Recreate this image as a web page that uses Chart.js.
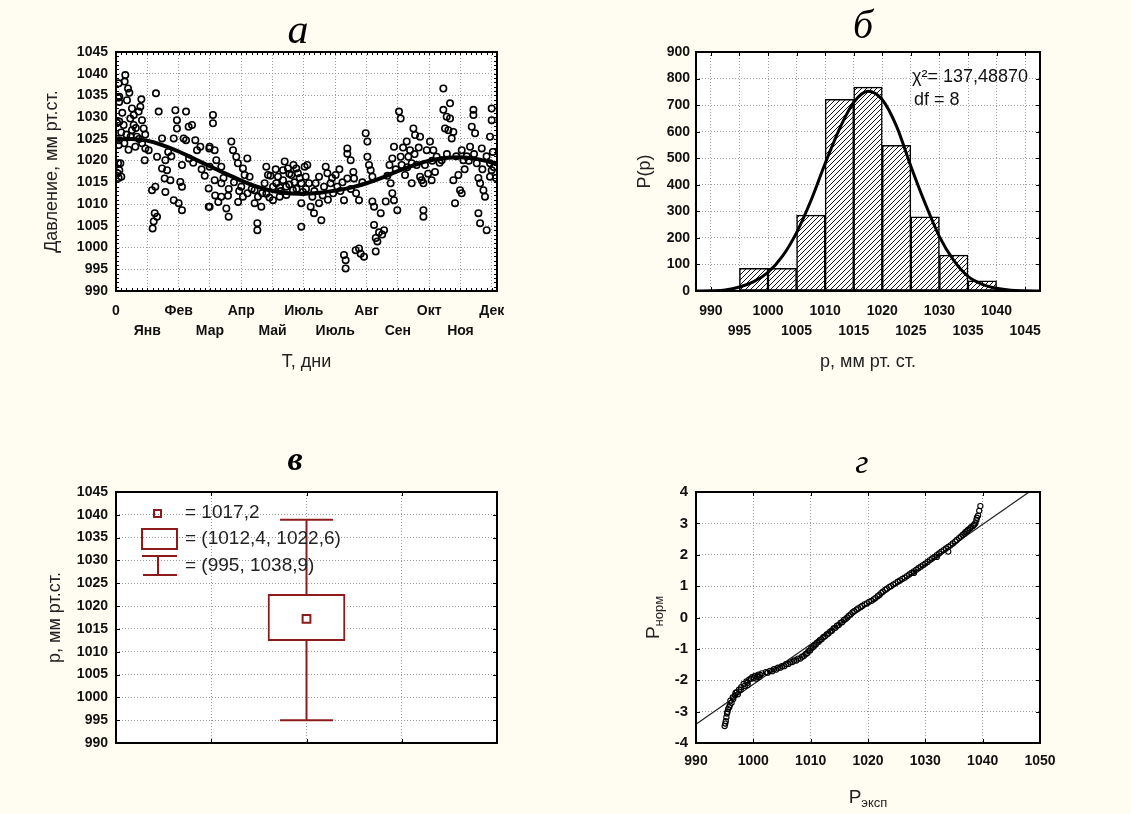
<!DOCTYPE html>
<html lang="ru">
<head>
<meta charset="utf-8">
<title>Атмосферное давление</title>
<script src="https://cdn.jsdelivr.net/npm/chart.js@4.4.1/dist/chart.umd.min.js"></script>
<style>
  html, body { margin:0; padding:0; background:#fffdf1; }
  body { width:1131px; height:814px; position:relative; overflow:hidden; }
  .pane { position:absolute; }
  .letter { position:absolute; font-family:'Liberation Serif','DejaVu Serif',serif; font-style:italic; color:#000; transform:translateX(-50%); white-space:nowrap; }
</style>
</head>
<body>
<div class="pane" style="left:0;top:0;width:560px;height:400px"><canvas id="cA"></canvas></div>
<div class="pane" style="left:560px;top:0;width:571px;height:400px"><canvas id="cB"></canvas></div>
<div class="pane" style="left:0;top:400px;width:560px;height:414px"><canvas id="cC"></canvas></div>
<div class="pane" style="left:560px;top:400px;width:571px;height:414px"><canvas id="cD"></canvas></div>
<div class="letter" style="left:298px;top:8px;font-size:42px;line-height:42px">а</div>
<div class="letter" style="left:863px;top:5px;font-size:40px;line-height:40px">б</div>
<div class="letter" style="left:295px;top:442px;font-size:34px;line-height:34px;font-weight:bold">в</div>
<div class="letter" style="left:862px;top:445px;font-size:34px;line-height:34px">г</div>
<script>
// ---------- Panel а: daily pressure over the year ----------
const aDays = [1,2,1.5,2.5,2,3,
 8.9,8.3,11.5,12.8,2.6,3.2,10.5,24.3,23.3,15.3,21.7,13.7,3.2,7.3,16.9,24.9,26.5,15.3,18.5,28.1,31.3,27.5,2.6,2.6,4.2,3.2,5.1,
 38.3,40.9,56.9,58.4,67.1,58.4,72.8,69.6,44.1,55.3,64.8,67.1,76.0,80.8,77.6,89.4,39.3,47.3,44.1,48.9,46.6,52.1,63.2,37.7,34.5,47.3,61.6,63.2,55.3,60.0,63.2,88.8,88.8,37.1,39.3,36.1,35.1,
 20,10,6,17,
 92.9,92.9,89.7,94.5,96.1,89.7,100.9,94.5,100.9,110.5,112.1,115.2,116.8,125.8,121.6,123.2,128.0,120.0,121.6,100.9,107.3,105.7,107.9,89.7,132.8,136.0,132.8,139.2,135.4,135.4,144.0,145.6,142.4,150.4,155.2,153.6,161.6,160.0,164.7,168.0,172.7,174.3,177.5,180.7,156.8,150.4,163.2,177.5,177.5,169.5,144.0,
 130,140,147,158,166,171,182,118,126,
 183.3,181.7,184.9,186.5,188.1,189.7,194.5,196.7,191.3,194.5,200.9,202.5,199.3,205.6,210.4,212.0,218.4,221.6,221.6,224.8,227.4,221.6,228.0,232.8,239.2,240.8,240.8,242.4,244.0,245.6,245.6,247.2,253.6,258.4,256.8,247.2,248.8,250.4,248.8,263.1,264.7,266.3,269.5,266.3,264.7,272.7,271.1,272.7,218.4,220.0,220.0,229.6,232.8,234.4,237.6,
 208,215,198,252,255,260,268,
 284.9,286.5,291.3,278.5,281.7,280.1,273.7,276.9,283.3,300.8,297.7,304.0,307.2,312.0,313.6,320.0,313.6,316.8,320.0,315.2,318.4,323.2,321.6,283.3,291.3,294.5,292.9,302.4,305.6,294.5,294.5,323.2,328.0,331.2,329.6,324.8,331.2,332.8,339.2,342.4,342.4,340.8,344.0,350.4,345.6,347.2,348.8,352.0,353.5,347.2,348.8,355.1,359.9,359.9,358.3,358.3,359.9,358.3,
 336,362,364,310,288,
 160,163,166,170,173,176,179,157,153,148,
 5,8,12,14,19,22,25,28,
 50,53,70,74,82,85,
 95,98,103,108,113,117,
 190,203,207,214,217,225,230,236,
 262,275,279,286,290,296,299,303,
 317,326,334,338,343,351,355,361];
const aPressure = [1028.7,1019.4,1017.1,1016,1034.5,1033.5,
 1039.7,1038.2,1036.6,1035.6,1037.8,1034.7,1033.9,1034.1,1032.4,1032.0,1031.3,1029.7,1029,1028.2,1028.2,1029.3,1027.4,1027.0,1023.2,1022.8,1022.4,1020.1,1024.7,1023.6,1019.4,1017.8,1016.3,
 1035.5,1031.3,1031.6,1029.3,1031.3,1027.4,1028.2,1027.8,1025.1,1025.1,1025.1,1024.7,1024.7,1023.2,1022.4,1022.8,1020.9,1020.1,1018.2,1017.8,1015.9,1015.5,1019.0,1014.0,1013.2,1012.8,1015.1,1014.0,1010.9,1010.2,1008.6,1013.6,1009.4,1007.9,1007.1,1006.0,1004.4,
 1025.5,1026,1031,1030.5,
 1030.5,1028.6,1023.2,1022.4,1020.1,1018.6,1018.6,1015.5,1014.8,1024.4,1022.4,1020.9,1019.4,1020.5,1018.2,1016.7,1016.3,1014.0,1011.7,1011.7,1011.9,1009.0,1007.1,1009.4,1013.2,1011.7,1010.2,1009.4,1005.6,1004.0,1018.6,1016.7,1014.8,1014.0,1016.3,1014.8,1019.8,1017.8,1018.2,1016.7,1018.2,1017.1,1014.8,1018.6,1011.7,1010.9,1012.1,1010.2,1004.8,1013.2,1012.4,
 1013.5,1012.5,1011.5,1013,1014.5,1015,1013.5,1013,1012.5,
 1019.0,1016.3,1014.8,1009.4,1011.7,1007.9,1010.2,1006.3,1014.8,1016.3,1018.6,1017.1,1014.0,1014.8,1016.7,1014.0,1010.9,1022.8,1021.6,1020.1,1017.4,1015.9,1015.9,1010.9,1026.3,1024.4,1020.9,1019.0,1017.8,1016.3,1010.6,1009.4,1007.9,1010.6,1004.0,1005.2,1002.2,1001.4,999.1,1014.8,1012.5,1010.9,1008.6,1023.2,1020.5,1020.9,1031.3,1029.7,998.3,997.1,995.2,999.4,999.8,998.6,997.9,
 1012.5,1013,1012,1003.5,1003,1016.5,1018,
 1027.4,1025.9,1025.5,1024.4,1022.4,1020.9,1019.0,1016.7,1019.4,1024.4,1022.4,1022.4,1020.9,1020.1,1036.6,1033.2,1031.7,1030.1,1029.7,1027.4,1027.0,1026.6,1025.1,1014.8,1016.3,1014.8,1015.5,1015.5,1017.4,1008.6,1007.1,1015.5,1016.7,1012.5,1013.2,1010.2,1022.4,1020.1,1023.2,1031.7,1030.5,1027.8,1026.3,1022.8,1019.4,1016.0,1014.8,1013.2,1011.7,1007.9,1005.6,1004.0,1032.0,1029.3,1019.4,1016.3,1017.8,1025.5,
 1021,1018.5,1016,1019.5,1019,
 1015.5,1014,1017,1019,1013.5,1016,1012.8,1013.8,1018,1016.5,
 1026.5,1024,1022.5,1025.5,1027.5,1025,1024,1026,
 1022,1021,1020.5,1019.5,1018,1016.5,
 1012,1010.5,1016,1013.5,1015,1010.5,
 1013,1011,1016,1018,1015,1013.5,1012.5,1015,
 1019,1023,1018.5,1021.5,1023,1019,1017,1020,
 1021.5,1021,1018,1020,1021.5,1018,1021,1022];
const aFitDays = [0,15,30,45,60,75,90,105,120,135,150,165,180,195,210,225,240,255,270,285,300,315,330,345,365];
const aFitPressure = [1024.9,1025,1024.6,1023.5,1022.1,1020.4,1018.7,1017,1015.4,1014,1013,1012.5,1012.4,1012.6,1013.1,1013.8,1014.8,1016.1,1017.6,1018.9,1020,1020.6,1020.8,1020.4,1019.3];
const aTickDays = [0,30,60,90,120,150,180,210,240,270,300,330,360];
const aMonthLabels = ['0','Янв','Фев','Мар','Апр','Май','Июль','Июль','Авг','Сен','Окт','Ноя','Дек'];
const pressureTicks = [990,995,1000,1005,1010,1015,1020,1025,1030,1035,1040,1045];

// ---------- Panel б: histogram with normal curve ----------
const bBinCenters = [997.5,1002.5,1007.5,1012.5,1017.5,1022.5,1027.5,1032.5,1037.5];
const bCounts = [85,85,286,722,768,549,279,135,38];
const bCurveX = [987.5,990,992.5,995,997.5,1000,1002.5,1005,1007.5,1010,1012.5,1015,1017.5,1020,1022.5,1025,1027.5,1030,1032.5,1035,1037.5,1040,1042.5,1045,1047.5];
const bCurveY = [0,1,4,15,35,70,130,220,340,480,610,710,752,720,620,470,330,205,115,55,25,10,3,1,0];
const bTicksX = [990,995,1000,1005,1010,1015,1020,1025,1030,1035,1040,1045];
const bTicksY = [0,100,200,300,400,500,600,700,800,900];
const bChiSquare = '137,48870';
const bDf = 8;

// ---------- Panel в: box plot ----------
const cMean = 1017.2;
const cQ1 = 1012.4;
const cQ3 = 1022.6;
const cMin = 995;
const cMax = 1038.9;
const cBoxX = 2;
const cTicksX = [1,2,3];

// ---------- Panel г: normal probability plot ----------
const dX = [995.0,995.2,995.3,995.4,995.6,995.9,996.2,996.5,996.8,997.1,997.5,997.9,998.3,998.8,999.3,999.8,1000.3,1000.9,1001.5,1002.2,1002.9,1003.6,1004.3,1005.0,1005.7,1006.4,1007.1,1007.8,1008.5,1009.1,1009.6,1010.1,1010.6,1011.1,1011.6,1012.2,1012.8,1013.4,1014.0,1014.6,1015.2,1015.8,1016.4,1017.0,1017.6,1018.3,1019.0,1019.8,1020.6,1021.3,1022.0,1022.6,1023.3,1024.0,1024.8,1025.6,1026.4,1027.2,1028.0,1028.8,1029.6,1030.4,1031.2,1032.0,1032.8,1033.6,1034.4,1035.2,1035.9,1036.5,1037.0,1037.5,1038.0,1038.5,1038.9,1039.2,1039.4,1039.6,
 995.1,995.5,995.8,996.0,996.4,996.9,997.3,997.8,998.5,999.0,999.6,1000.1,1000.7,1001.2,1002.5,1003.3,1004.0,1004.7,1005.4,1006.1,1006.8,1007.5,1008.2,1008.8,1009.4,1009.9,1010.4,1010.9,1011.4,1011.9,1012.5,1013.1,1013.7,1014.3,1014.9,1015.5,1016.1,1016.7,1017.3,1018.0,1018.7,1019.4,1020.2,1021.0,1021.7,1022.3,1023.0,1023.7,1024.4,1025.2,1026.0,1026.8,1027.6,1028.4,1029.2,1030.0,1030.8,1031.6,1032.4,1033.2,1034.0,1034.8,1035.5,1036.2,1036.8,1037.3,1037.8,1038.3,1038.7,1039.0,
 1000.5,1001.0,999.0,1032.0,1034.0,1028.0];
const dY = [-3.46,-3.3,-3.18,-3.06,-2.92,-2.8,-2.72,-2.6,-2.48,-2.38,-2.3,-2.22,-2.12,-2.04,-1.97,-1.9,-1.86,-1.82,-1.78,-1.74,-1.7,-1.65,-1.6,-1.55,-1.49,-1.43,-1.37,-1.31,-1.25,-1.17,-1.07,-0.98,-0.89,-0.8,-0.72,-0.63,-0.54,-0.45,-0.35,-0.26,-0.17,-0.08,0.0,0.1,0.2,0.29,0.37,0.45,0.53,0.62,0.72,0.82,0.92,1.0,1.09,1.18,1.27,1.37,1.47,1.57,1.67,1.77,1.88,1.99,2.1,2.2,2.3,2.42,2.53,2.63,2.72,2.8,2.88,2.96,3.1,3.25,3.4,3.55,
 -3.38,-3.0,-2.86,-2.65,-2.55,-2.4,-2.45,-2.3,-2.18,-2.08,-1.95,-1.92,-1.88,-1.83,-1.76,-1.71,-1.66,-1.6,-1.55,-1.48,-1.42,-1.37,-1.31,-1.23,-1.14,-1.05,-0.95,-0.86,-0.77,-0.69,-0.6,-0.51,-0.42,-0.33,-0.24,-0.15,-0.05,0.06,0.16,0.25,0.33,0.42,0.5,0.58,0.68,0.78,0.88,0.97,1.05,1.14,1.23,1.32,1.42,1.52,1.62,1.72,1.83,1.93,2.04,2.15,2.25,2.36,2.47,2.58,2.67,2.76,2.84,2.92,3.0,3.18,
 -1.95,-1.9,-2.15,1.93,2.1,1.42];
const dRefX = [990,1048.1];
const dRefY = [-3.4,4];
const dTicksX = [990,1000,1010,1020,1030,1040,1050];
const dTicksY = [-4,-3,-2,-1,0,1,2,3,4];

// ---------- common styling ----------
Chart.defaults.animation = false;
Chart.defaults.events = [];
Chart.defaults.plugins.legend.display = false;
Chart.defaults.plugins.tooltip.enabled = false;
Chart.defaults.color = '#111';
const NARROW = "'Liberation Sans Narrow','Liberation Sans',Arial,sans-serif";
const SANS = "'Liberation Sans',Arial,sans-serif";
Chart.defaults.font.family = SANS;
const tickFont = {family: NARROW, size: 14, weight: 'bold', lineHeight: '20px'};
const titleFont = {family: SANS, size: 18, lineHeight: 1.2};
const gridOpts = {color: '#9c9c9c', lineWidth: 1, drawTicks: false};
const borderOpts = {display: false, dash: [1, 2]};
const RED = '#8e1b1b';
const fmt = v => String(v);
const fmtRu = v => String(v).replace('.', ',');
const fixedTicks = vals => s => { s.ticks = vals.map(v => ({value: v})); };
const twoRow = (v, i) => (i % 2 === 0 ? [fmt(v)] : ['', fmt(v)]);
const range = (a, b, st) => { const r = []; for (let v = a; v <= b + 1e-9; v += st) r.push(v); return r; };

function makeFrame(xTicks, yTicks, len) {
  return {
    id: 'frame',
    beforeDraw(chart) {
      const {ctx, chartArea: a} = chart;
      ctx.save();
      ctx.fillStyle = '#ffffff';
      ctx.fillRect(a.left, a.top, a.right - a.left, a.bottom - a.top);
      ctx.restore();
    },
    afterDraw(chart) {
      const {ctx, chartArea: a, scales} = chart;
      ctx.save();
      ctx.strokeStyle = '#000';
      ctx.lineWidth = 1;
      ctx.beginPath();
      xTicks.forEach(v => {
        const p = Math.round(scales.x.getPixelForValue(v)) + 0.5;
        ctx.moveTo(p, a.bottom); ctx.lineTo(p, a.bottom - len);
        ctx.moveTo(p, a.top); ctx.lineTo(p, a.top + len);
      });
      yTicks.forEach(v => {
        const p = Math.round(scales.y.getPixelForValue(v)) + 0.5;
        ctx.moveTo(a.left, p); ctx.lineTo(a.left + len, p);
        ctx.moveTo(a.right, p); ctx.lineTo(a.right - len, p);
      });
      ctx.stroke();
      ctx.lineWidth = 2;
      ctx.strokeRect(a.left, a.top, a.right - a.left, a.bottom - a.top);
      ctx.restore();
    }
  };
}

function makeHatch(ctx) {
  const c = document.createElement('canvas');
  c.width = 5; c.height = 5;
  const g = c.getContext('2d');
  g.fillStyle = '#fff'; g.fillRect(0, 0, 5, 5);
  g.strokeStyle = '#151515'; g.lineWidth = 1;
  g.beginPath();
  g.moveTo(0, 5); g.lineTo(5, 0);
  g.moveTo(-1, 1); g.lineTo(1, -1);
  g.moveTo(4, 6); g.lineTo(6, 4);
  g.stroke();
  return ctx.createPattern(c, 'repeat');
}

// ---------- Chart а ----------
new Chart(document.getElementById('cA'), {
  type: 'scatter',
  data: { datasets: [
    { type: 'line', data: aFitDays.map((d, i) => ({x: d, y: aFitPressure[i]})), borderColor: '#000', borderWidth: 4, pointRadius: 0, cubicInterpolationMode: 'monotone', fill: false, order: 0 },
    { type: 'scatter', data: aDays.map((d, i) => ({x: d, y: aPressure[i]})), borderColor: '#000', backgroundColor: 'rgba(0,0,0,0)', pointRadius: 3.2, borderWidth: 1.6, order: 1 }
  ]},
  options: {
    responsive: true, maintainAspectRatio: false,
    layout: {padding: {left: 0, top: 52, right: 63, bottom: 0}},
    scales: {
      x: { type: 'linear', min: 0, max: 365, afterBuildTicks: fixedTicks(aTickDays), afterFit: s => { s.height = 109; },
           grid: gridOpts, border: borderOpts,
           ticks: {font: tickFont, padding: 10, autoSkip: false, maxRotation: 0, callback: (v, i) => (i % 2 === 0 ? [aMonthLabels[i]] : ['', aMonthLabels[i]])},
           title: {display: true, text: 'Т, дни', font: titleFont, color: '#222', padding: {top: 0, bottom: 27}} },
      y: { type: 'linear', min: 990, max: 1045, afterBuildTicks: fixedTicks(pressureTicks), afterFit: s => { s.width = 116; },
           grid: gridOpts, border: borderOpts,
           ticks: {font: tickFont, padding: 8, autoSkip: false, callback: fmt},
           title: {display: true, text: 'Давление, мм рт.ст.', font: titleFont, color: '#222', padding: {top: 41, bottom: 0}} }
    }
  },
  plugins: [makeFrame(range(0, 365, 5), range(990, 1045, 1), 3)]
});

// ---------- Chart б ----------
const ctxB = document.getElementById('cB').getContext('2d');
const chiPlugin = {
  id: 'chi',
  afterDraw(chart) {
    const {ctx, chartArea: a} = chart;
    ctx.save();
    ctx.fillStyle = '#111';
    ctx.font = '18px ' + SANS;
    ctx.textBaseline = 'middle';
    ctx.textAlign = 'left';
    ctx.fillText('χ²= ' + bChiSquare, a.left + 216, a.top + 25);
    ctx.fillText('df = ' + bDf, a.left + 218, a.top + 48);
    ctx.restore();
  }
};
new Chart(ctxB, {
  type: 'bar',
  data: { datasets: [
    { type: 'line', data: bCurveX.map((x, i) => ({x, y: bCurveY[i]})), borderColor: '#000', borderWidth: 3, pointRadius: 0, cubicInterpolationMode: 'monotone', fill: false, order: 0 },
    { type: 'bar', data: bBinCenters.map((x, i) => ({x, y: bCounts[i]})), backgroundColor: makeHatch(ctxB), borderColor: '#000', borderWidth: 1.5, borderSkipped: false, barPercentage: 1, categoryPercentage: 1, order: 1 }
  ]},
  options: {
    responsive: true, maintainAspectRatio: false,
    layout: {padding: {left: 0, top: 52, right: 91, bottom: 0}},
    scales: {
      x: { type: 'linear', min: 987.4, max: 1047.6, offset: false, afterBuildTicks: fixedTicks(bTicksX), afterFit: s => { s.height = 109; },
           grid: Object.assign({}, gridOpts, {offset: false}), border: borderOpts,
           ticks: {font: tickFont, padding: 10, autoSkip: false, maxRotation: 0, callback: twoRow},
           title: {display: true, text: 'p, мм рт. ст.', font: titleFont, color: '#222', padding: {top: 0, bottom: 27}} },
      y: { type: 'linear', min: 0, max: 900, afterBuildTicks: fixedTicks(bTicksY), afterFit: s => { s.width = 136; },
           grid: gridOpts, border: borderOpts,
           ticks: {font: tickFont, padding: 6, autoSkip: false, callback: fmt},
           title: {display: true, text: 'P(p)', font: titleFont, color: '#222', padding: {top: 74, bottom: 0}} }
    }
  },
  plugins: [makeFrame(bTicksX, bTicksY, 4), chiPlugin]
});

// ---------- Chart в ----------
const CAP = 0.278;
const boxLegend = {
  id: 'boxLegend',
  afterDraw(chart) {
    const {ctx, chartArea: a} = chart;
    const L = a.left, T = a.top;
    ctx.save();
    ctx.strokeStyle = RED; ctx.lineWidth = 2;
    ctx.strokeRect(L + 38, T + 18, 7, 7);
    ctx.strokeRect(L + 26, T + 37, 35, 20);
    ctx.beginPath();
    ctx.moveTo(L + 26, T + 64); ctx.lineTo(L + 61, T + 64);
    ctx.moveTo(L + 42, T + 64); ctx.lineTo(L + 42, T + 83);
    ctx.moveTo(L + 27, T + 83); ctx.lineTo(L + 61, T + 83);
    ctx.stroke();
    ctx.fillStyle = '#222';
    ctx.font = '19px ' + SANS;
    ctx.textBaseline = 'middle';
    ctx.fillText('= ' + fmtRu(cMean), L + 69, T + 21);
    ctx.fillText('= (' + fmtRu(cQ1) + ', ' + fmtRu(cQ3) + ')', L + 69, T + 47);
    ctx.fillText('= (' + fmtRu(cMin) + ', ' + fmtRu(cMax) + ')', L + 69, T + 74);
    ctx.restore();
  }
};
const redLine = pts => ({ type: 'line', data: pts, borderColor: RED, borderWidth: 2, pointRadius: 0, fill: false, order: 1 });
new Chart(document.getElementById('cC'), {
  type: 'bar',
  data: { datasets: [
    { type: 'scatter', data: [{x: cBoxX, y: cMean}], pointStyle: 'rect', pointRadius: 5.5, borderColor: RED, backgroundColor: '#fff', borderWidth: 2, order: 0 },
    redLine([{x: cBoxX, y: cQ3}, {x: cBoxX, y: cMax}]),
    redLine([{x: cBoxX, y: cMin}, {x: cBoxX, y: cQ1}]),
    redLine([{x: cBoxX - CAP, y: cMax}, {x: cBoxX + CAP, y: cMax}]),
    redLine([{x: cBoxX - CAP, y: cMin}, {x: cBoxX + CAP, y: cMin}]),
    { type: 'bar', data: [{x: cBoxX, y: [cQ1, cQ3]}], backgroundColor: '#fff', borderColor: RED, borderWidth: 2, borderSkipped: false, barThickness: 77, order: 2 }
  ]},
  options: {
    responsive: true, maintainAspectRatio: false,
    layout: {padding: {left: 0, top: 92, right: 63, bottom: 0}},
    scales: {
      x: { type: 'linear', min: 0, max: 4, offset: false, afterBuildTicks: fixedTicks(cTicksX), afterFit: s => { s.height = 71; },
           grid: Object.assign({}, gridOpts, {offset: false}), border: borderOpts, ticks: {display: false} },
      y: { type: 'linear', min: 990, max: 1045, afterBuildTicks: fixedTicks(pressureTicks), afterFit: s => { s.width = 116; },
           grid: gridOpts, border: borderOpts,
           ticks: {font: tickFont, padding: 8, autoSkip: false, callback: fmt},
           title: {display: true, text: 'p, мм рт.ст.', font: titleFont, color: '#222', padding: {top: 44, bottom: 0}} }
    }
  },
  plugins: [makeFrame(cTicksX, pressureTicks, 4), boxLegend]
});

// ---------- Chart г ----------
const subTitles = {
  id: 'subTitles',
  afterDraw(chart) {
    const {ctx, chartArea: a} = chart;
    const draw = (main, sub, x, y, rot) => {
      ctx.save();
      ctx.translate(x, y); ctx.rotate(rot);
      ctx.fillStyle = '#222';
      ctx.textBaseline = 'alphabetic';
      ctx.font = '19px ' + SANS;
      const w1 = ctx.measureText(main).width;
      ctx.font = '13px ' + SANS;
      const w2 = ctx.measureText(sub).width;
      const s = -(w1 + w2) / 2;
      ctx.font = '19px ' + SANS; ctx.fillText(main, s, 5);
      ctx.font = '13px ' + SANS; ctx.fillText(sub, s + w1, 9);
      ctx.restore();
    };
    draw('P', 'норм', a.left - 42, (a.top + a.bottom) / 2, -Math.PI / 2);
    draw('P', 'эксп', (a.left + a.right) / 2, a.bottom + 55, 0);
  }
};
new Chart(document.getElementById('cD'), {
  type: 'scatter',
  data: { datasets: [
    { type: 'scatter', data: dX.map((x, i) => ({x, y: dY[i]})), borderColor: '#000', backgroundColor: 'rgba(0,0,0,0)', pointRadius: 2.6, borderWidth: 1.1, order: 0 },
    { type: 'line', data: dRefX.map((x, i) => ({x, y: dRefY[i]})), borderColor: '#222', borderWidth: 1.2, pointRadius: 0, fill: false, order: 1 }
  ]},
  options: {
    responsive: true, maintainAspectRatio: false,
    layout: {padding: {left: 0, top: 92, right: 91, bottom: 0}},
    scales: {
      x: { type: 'linear', min: 990, max: 1050, afterBuildTicks: fixedTicks(dTicksX), afterFit: s => { s.height = 71; },
           grid: gridOpts, border: borderOpts,
           ticks: {font: tickFont, padding: 8, autoSkip: false, maxRotation: 0, callback: fmt} },
      y: { type: 'linear', min: -4, max: 4, afterBuildTicks: fixedTicks(dTicksY), afterFit: s => { s.width = 136; },
           grid: gridOpts, border: borderOpts,
           ticks: {font: {family: NARROW, size: 15, weight: 'bold'}, padding: 8, autoSkip: false, callback: fmt} }
    }
  },
  plugins: [makeFrame(dTicksX, dTicksY, 4), subTitles]
});
</script>
</body>
</html>
